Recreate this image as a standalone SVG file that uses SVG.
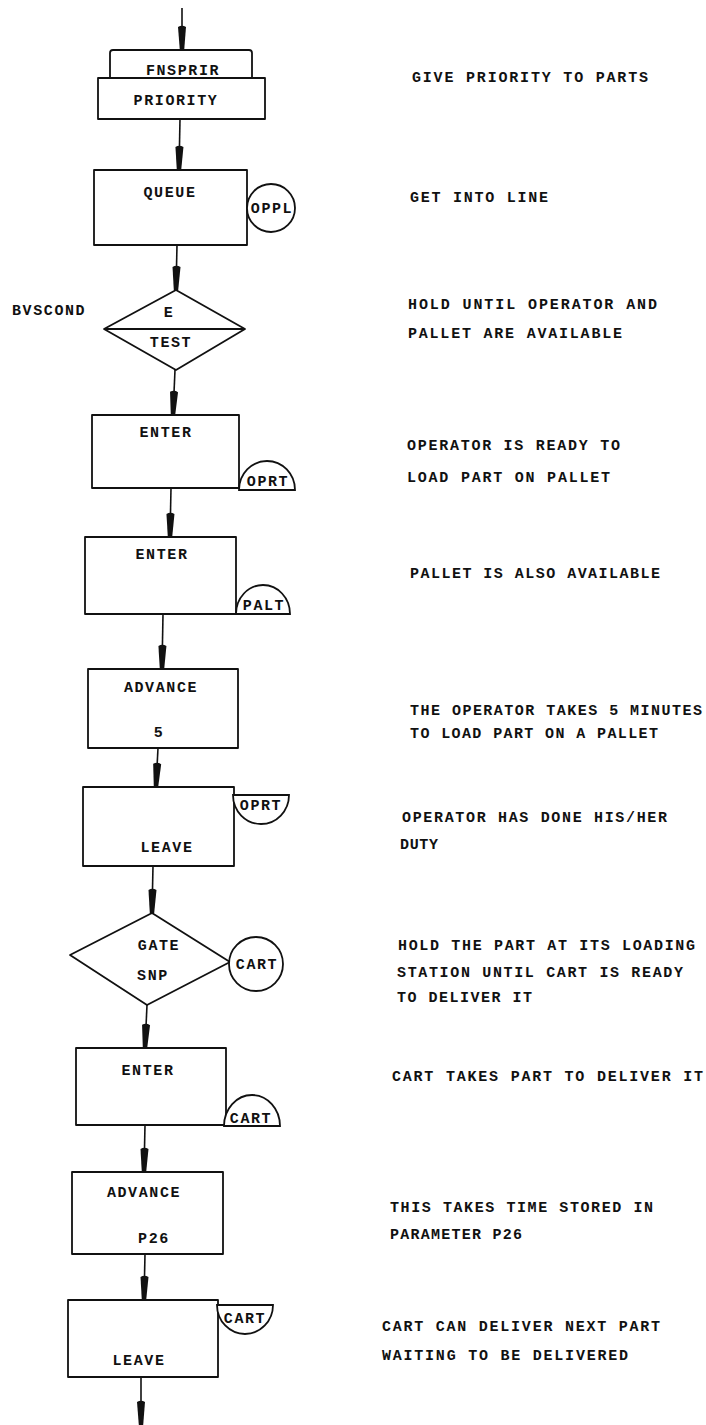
<svg xmlns="http://www.w3.org/2000/svg" width="706" height="1425" viewBox="0 0 706 1425">
<style>
.s{fill:none;stroke:#111;stroke-width:1.8;stroke-linejoin:round}
.w{fill:#fff;stroke:#111;stroke-width:1.8}
.c{stroke:#111;stroke-width:1.6;fill:none;marker-end:url(#ah)}
text{font-family:"Liberation Mono","DejaVu Sans Mono",monospace;font-weight:bold;font-size:15px;fill:#111}
.m{text-anchor:middle;letter-spacing:1.6px}
.r{letter-spacing:1.6px}
</style>
<defs>
<marker id="ah" markerUnits="userSpaceOnUse" markerWidth="26" markerHeight="12" viewBox="-2 0 26 12" refX="24" refY="6" orient="auto" overflow="visible">
<path d="M1,2 Q-1.5,6 1,10 L24,8.2 L24,3.8 Z" fill="#111"/>
</marker>
</defs>
<g id="connectors">
<line class="c" x1="182" y1="8" x2="182" y2="50"/>
<line class="c" x1="180" y1="119" x2="179" y2="170"/>
<line class="c" x1="177" y1="245" x2="176" y2="290"/>
<line class="c" x1="175" y1="370" x2="173" y2="415"/>
<line class="c" x1="171" y1="488" x2="170" y2="537"/>
<line class="c" x1="163" y1="614" x2="162" y2="669"/>
<line class="c" x1="158" y1="748" x2="156" y2="787"/>
<line class="c" x1="153" y1="866" x2="152" y2="913"/>
<line class="c" x1="147" y1="1005" x2="145" y2="1048"/>
<line class="c" x1="145" y1="1125" x2="144" y2="1172"/>
<line class="c" x1="145" y1="1254" x2="144" y2="1300"/>
<line class="c" x1="141" y1="1377" x2="141" y2="1425"/>
</g>
<g id="priority">
<path class="s" d="M110,78 V53 Q110,50 113,50 H249 Q252,50 252,53 V78"/>
<rect class="s" x="98" y="78" width="167" height="41"/>
<text class="m" x="183" y="75">FNSPRIR</text>
<text class="m" x="176" y="105">PRIORITY</text>
</g>
<g id="queue">
<rect class="s" x="94" y="170" width="153" height="75"/>
<text class="m" x="170" y="197">QUEUE</text>
<circle class="w" cx="271" cy="208" r="24"/>
<text class="m" x="272" y="213">OPPL</text>
</g>
<g id="test">
<polygon class="s" points="176,290 245,329 176,370 104,329"/>
<line class="s" x1="104" y1="329" x2="245" y2="329"/>
<text class="m" x="169" y="317">E</text>
<text class="m" x="171" y="347">TEST</text>
<text class="r" x="12" y="315">BVSCOND</text>
</g>
<g id="enter1">
<rect class="s" x="92" y="415" width="147" height="73"/>
<text class="m" x="166" y="437">ENTER</text>
<path class="w" d="M239,490 A28,29 0 0 1 295,490 Z"/>
<text class="m" x="268" y="486">OPRT</text>
</g>
<g id="enter2">
<rect class="s" x="85" y="537" width="151" height="77"/>
<text class="m" x="162" y="559">ENTER</text>
<path class="w" d="M236,614 A27,29 0 0 1 290,614 Z"/>
<text class="m" x="264" y="610">PALT</text>
</g>
<g id="advance1">
<rect class="s" x="88" y="669" width="150" height="79"/>
<text class="m" x="161" y="692">ADVANCE</text>
<text class="m" x="159" y="737">5</text>
</g>
<g id="leave1">
<rect class="s" x="83" y="787" width="151" height="79"/>
<path class="w" d="M233,795 A28,29 0 0 0 289,795 Z"/>
<text class="m" x="261" y="810">OPRT</text>
<text class="m" x="167" y="852">LEAVE</text>
</g>
<g id="gate">
<polygon class="s" points="152,913 230,962 147,1005 70,955"/>
<text class="m" x="159" y="950">GATE</text>
<text class="m" x="153" y="980">SNP</text>
<circle class="w" cx="256" cy="964" r="27"/>
<text class="m" x="257" y="969">CART</text>
</g>
<g id="enter3">
<rect class="s" x="76" y="1048" width="150" height="77"/>
<text class="m" x="148" y="1075">ENTER</text>
<path class="w" d="M224,1126 A28,31 0 0 1 280,1126 Z"/>
<text class="m" x="251" y="1123">CART</text>
</g>
<g id="advance2">
<rect class="s" x="72" y="1172" width="151" height="82"/>
<text class="m" x="144" y="1197">ADVANCE</text>
<text class="m" x="154" y="1243">P26</text>
</g>
<g id="leave2">
<rect class="s" x="68" y="1300" width="150" height="77"/>
<path class="w" d="M217,1305 A28,29 0 0 0 273,1305 Z"/>
<text class="m" x="245" y="1323">CART</text>
<text class="m" x="139" y="1365">LEAVE</text>
</g>
<g id="comments">
<text x="412" y="82" textLength="236" lengthAdjust="spacing">GIVE PRIORITY TO PARTS</text>
<text x="410" y="202" textLength="138" lengthAdjust="spacing">GET INTO LINE</text>
<text x="408" y="309" textLength="249" lengthAdjust="spacing">HOLD UNTIL OPERATOR AND</text>
<text x="408" y="338" textLength="214" lengthAdjust="spacing">PALLET ARE AVAILABLE</text>
<text x="407" y="450" textLength="213" lengthAdjust="spacing">OPERATOR IS READY TO</text>
<text x="407" y="482" textLength="203" lengthAdjust="spacing">LOAD PART ON PALLET</text>
<text x="410" y="578" textLength="250" lengthAdjust="spacing">PALLET IS ALSO AVAILABLE</text>
<text x="410" y="715" textLength="292" lengthAdjust="spacing">THE OPERATOR TAKES 5 MINUTES</text>
<text x="410" y="738" textLength="248" lengthAdjust="spacing">TO LOAD PART ON A PALLET</text>
<text x="402" y="822" textLength="265" lengthAdjust="spacing">OPERATOR HAS DONE HIS/HER</text>
<text x="400" y="849" textLength="38" lengthAdjust="spacing">DUTY</text>
<text x="398" y="950" textLength="297" lengthAdjust="spacing">HOLD THE PART AT ITS LOADING</text>
<text x="397" y="977" textLength="286" lengthAdjust="spacing">STATION UNTIL CART IS READY</text>
<text x="397" y="1002" textLength="135" lengthAdjust="spacing">TO DELIVER IT</text>
<text x="392" y="1081" textLength="311" lengthAdjust="spacing">CART TAKES PART TO DELIVER IT</text>
<text x="390" y="1212" textLength="263" lengthAdjust="spacing">THIS TAKES TIME STORED IN</text>
<text x="390" y="1239" textLength="132" lengthAdjust="spacing">PARAMETER P26</text>
<text x="382" y="1331" textLength="278" lengthAdjust="spacing">CART CAN DELIVER NEXT PART</text>
<text x="382" y="1360" textLength="246" lengthAdjust="spacing">WAITING TO BE DELIVERED</text>
</g>
</svg>
